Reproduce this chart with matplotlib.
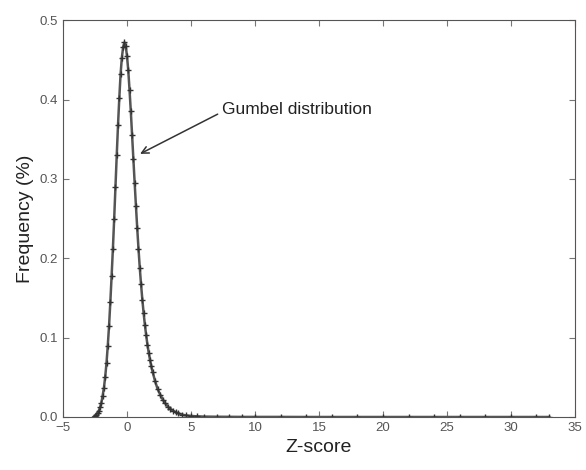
import matplotlib
matplotlib.use('Agg')
import matplotlib.pyplot as plt

plt.rcParams['font.family'] = ['Liberation Sans', 'DejaVu Sans']

# data (z-score vs frequency)
z_score = [-2.6, -2.5, -2.4, -2.3, -2.2, -2.1, -2.0, -1.9, -1.8, -1.7,
           -1.6, -1.5, -1.4, -1.3, -1.2, -1.1, -1.0, -0.9, -0.8, -0.7,
           -0.6, -0.5, -0.4, -0.3, -0.2, -0.1, 0.0, 0.1, 0.2, 0.3,
           0.4, 0.5, 0.6, 0.7, 0.8, 0.9, 1.0, 1.1, 1.2, 1.3,
           1.4, 1.5, 1.6, 1.7, 1.8, 1.9, 2.0, 2.2, 2.4, 2.6,
           2.8, 3.0, 3.2, 3.4, 3.6, 3.8, 4.0, 4.3, 4.6, 5.0,
           5.5, 6.0, 7.0, 8.0, 9.0, 10.0, 12.0, 14.0, 16.0, 18.0,
           20.0, 22.0, 24.0, 26.0, 28.0, 30.0, 32.0, 33.0]
frequency = [0.000, 0.001, 0.003, 0.005, 0.008, 0.012, 0.018, 0.027, 0.037, 0.051,
             0.068, 0.090, 0.115, 0.145, 0.178, 0.212, 0.250, 0.290, 0.330, 0.368,
             0.402, 0.432, 0.453, 0.466, 0.472, 0.468, 0.455, 0.437, 0.412, 0.385,
             0.355, 0.325, 0.295, 0.266, 0.238, 0.212, 0.188, 0.167, 0.148, 0.131,
             0.116, 0.103, 0.091, 0.081, 0.072, 0.064, 0.057, 0.045, 0.035, 0.028,
             0.022, 0.017, 0.013, 0.010, 0.008, 0.006, 0.0045, 0.003, 0.002, 0.0013,
             0.0008, 0.0005, 0.0003, 0.0002, 0.0001, 0.0001, 0.0001, 0.0, 0.0, 0.0,
             0.0, 0.0, 0.0, 0.0, 0.0, 0.0, 0.0, 0.0]

fig = plt.figure(figsize=(5.86, 4.70), dpi=100)
ax = fig.add_axes([0.1075, 0.1128, 0.8735, 0.8442])

ax.plot(z_score, frequency, color='#555555', lw=1.8)
ax.plot(z_score, frequency, ls='none', marker='+', ms=4, mew=1.0, color='#333333')

ax.annotate('Gumbel distribution', xy=(0.83, 0.33), xytext=(7.4, 0.388),
            fontsize=12.5, color='#222222', va='center',
            arrowprops=dict(arrowstyle='->', color='#333333', lw=1.1,
                            relpos=(0.0, 0.3), shrinkA=1))

ax.set_xlim(-5, 35)
ax.set_ylim(0, 0.5)
ax.set_xticks(range(-5, 36, 5))
ax.set_yticks([0.0, 0.1, 0.2, 0.3, 0.4, 0.5])
ax.tick_params(direction='in', top=True, right=True, labelsize=9.5,
               labelcolor='#555555', color='#777777', length=4)
for s in ax.spines.values():
    s.set_color('#555555')

ax.set_xlabel('Z-score', fontsize=14, color='#222222')
ax.set_ylabel('Frequency (%)', fontsize=14, color='#222222')

fig.savefig('out.png', dpi=100)
